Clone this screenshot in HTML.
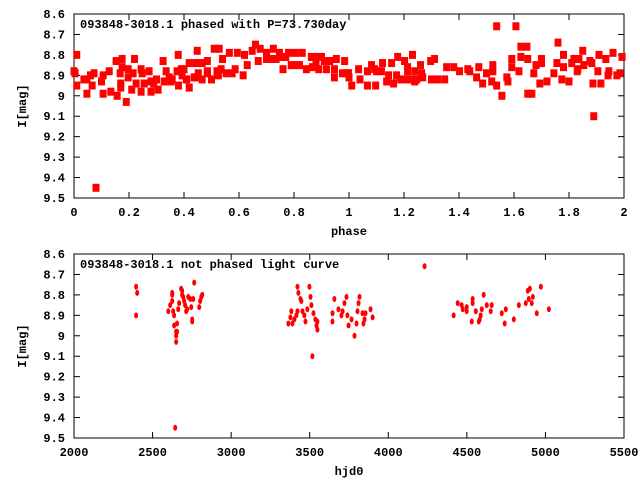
<!DOCTYPE html>
<html><head><meta charset="utf-8"><style>
body{margin:0;background:#fff;}
svg text{font-family:"Liberation Mono",monospace;font-weight:bold;font-size:12px;fill:#000;}
</style></head><body>
<svg id="chart" width="640" height="480" xmlns="http://www.w3.org/2000/svg"></svg>
<script>
const phaseTicks=[0,0.2,0.4,0.6,0.8,1,1.2,1.4,1.6,1.8,2];
const phaseTickLabels=["0","0.2","0.4","0.6","0.8","1","1.2","1.4","1.6","1.8","2"];
const hjdTicks=[2000,2500,3000,3500,4000,4500,5000,5500];
const magTicks=[8.6,8.7,8.8,8.9,9,9.1,9.2,9.3,9.4,9.5];
const magTickLabels=["8.6","8.7","8.8","8.9","9","9.1","9.2","9.3","9.4","9.5"];
const phasedPhase=[0.0,0.01,0.004,0.01,0.036,0.047,0.047,0.06,0.066,0.073,0.08,0.10,0.106,0.106,0.128,0.134,0.153,0.157,0.168,0.17,0.17,0.175,0.175,0.19,0.197,0.197,0.21,0.215,0.22,0.226,0.244,0.244,0.248,0.255,0.273,0.28,0.28,0.29,0.30,0.306,0.324,0.328,0.335,0.346,0.353,0.357,0.375,0.379,0.38,0.39,0.393,0.40,0.408,0.41,0.419,0.419,0.437,0.444,0.444,0.448,0.452,0.466,0.466,0.485,0.485,0.485,0.50,0.51,0.52,0.525,0.528,0.535,0.54,0.553,0.565,0.575,0.586,0.594,0.615,0.62,0.63,0.648,0.66,0.67,0.677,0.70,0.70,0.71,0.72,0.725,0.735,0.747,0.754,0.76,0.77,0.78,0.79,0.805,0.805,0.82,0.83,0.845,0.863,0.867,0.877,0.88,0.89,0.90,0.91,0.918,0.93,0.947,0.947,0.954,0.976,0.984,0.998,
0.995,1.00,1.01,1.035,1.04,1.067,1.067,1.082,1.093,1.097,1.10,1.118,1.122,1.137,1.144,1.155,1.162,1.173,1.177,1.188,1.202,1.213,1.213,1.213,1.228,1.231,1.239,1.239,1.246,1.26,1.264,1.268,1.297,1.30,1.311,1.322,1.348,1.355,1.381,1.402,1.432,1.439,1.464,1.472,1.486,1.50,1.519,1.523,1.523,1.537,1.537,1.556,1.574,1.578,1.592,1.592,1.607,1.618,1.625,1.625,1.647,1.65,1.65,1.665,1.672,1.68,1.694,1.70,1.70,1.72,1.745,1.756,1.76,1.774,1.78,1.78,1.80,1.81,1.818,1.83,1.832,1.836,1.85,1.854,1.876,1.883,1.887,1.89,1.909,1.905,1.916,1.934,1.942,1.945,1.96,1.974,1.985,1.993];
const phasedMag=[8.88,8.80,8.89,8.95,8.92,8.92,8.99,8.90,8.95,8.89,9.45,8.93,8.90,8.99,8.88,8.98,8.83,9.00,8.89,8.94,8.96,8.82,8.86,9.03,8.87,8.91,8.97,8.89,8.82,8.94,8.87,8.98,8.89,8.94,8.88,8.98,8.93,8.94,8.92,8.97,8.83,8.93,8.88,8.91,8.93,8.92,8.88,8.80,8.95,8.87,8.90,8.87,8.92,8.92,8.96,8.84,8.91,8.91,8.84,8.78,8.89,8.84,8.92,8.83,8.88,8.89,8.92,8.77,8.88,8.90,8.77,8.87,8.82,8.89,8.79,8.89,8.87,8.79,8.90,8.80,8.85,8.78,8.75,8.83,8.77,8.79,8.82,8.82,8.82,8.77,8.82,8.79,8.81,8.87,8.81,8.79,8.85,8.79,8.85,8.85,8.79,8.87,8.81,8.86,8.81,8.84,8.87,8.81,8.83,8.87,8.83,8.87,8.91,8.82,8.89,8.83,8.89,
8.89,8.91,8.95,8.87,8.92,8.88,8.95,8.85,8.87,8.95,8.88,8.88,8.84,8.93,8.90,8.84,8.94,8.90,8.81,8.92,8.83,8.86,8.88,8.92,8.92,8.80,8.88,8.93,8.92,8.85,8.89,8.91,8.83,8.92,8.82,8.92,8.92,8.86,8.86,8.88,8.87,8.88,8.91,8.86,8.94,8.89,8.93,8.85,8.88,8.66,8.95,9.00,8.91,8.93,8.82,8.86,8.66,8.88,8.76,8.81,8.76,8.82,8.99,8.99,8.89,8.85,8.94,8.82,8.84,8.93,8.89,8.84,8.74,8.92,8.80,8.86,8.93,8.84,8.82,8.88,8.87,8.82,8.78,8.85,8.83,8.84,8.94,9.10,8.80,8.88,8.94,8.82,8.90,8.88,8.79,8.90,8.89,8.81];
const hjd=[2395,2402,2395,2600,2612,2625,2625,2625,2631,2637,2637,2650,2650,2650,2656,2656,2663,2669,2682,2688,2688,2695,2701,2707,2714,2720,2727,2740,2746,2752,2752,2759,2765,2797,2803,2810,2816,2644,3364,3377,3383,3390,3402,3415,3422,3422,3428,3441,3447,3454,3466,3473,3485,3498,3505,3511,3517,3524,3536,3543,3549,3549,3645,3645,3657,3683,3702,3709,3721,3734,3740,3747,3766,3785,3798,3804,3811,3817,3836,3842,3849,3855,3887,3900,4231,4416,4442,4467,4474,4499,4499,4531,4537,4537,4557,4576,4582,4588,4595,4607,4627,4652,4658,4722,4741,4748,4799,4831,4875,4888,4894,4901,4913,4920,4945,4971,5022];
const hjdMag=[8.76,8.79,8.90,8.88,8.85,8.80,8.79,8.83,8.88,8.90,8.95,8.98,9.00,9.03,8.94,8.98,8.87,8.84,8.77,8.80,8.78,8.81,8.83,8.85,8.88,8.87,8.81,8.82,8.86,8.92,8.93,8.82,8.74,8.86,8.83,8.81,8.80,9.45,8.94,8.91,8.88,8.94,8.92,8.90,8.88,8.76,8.79,8.82,8.83,8.88,8.90,8.93,8.87,8.76,8.81,8.85,9.10,8.89,8.92,8.95,8.97,8.93,8.93,8.89,8.82,8.87,8.90,8.88,8.84,8.81,8.90,8.95,8.92,9.00,8.94,8.88,8.84,8.81,8.89,8.94,8.92,8.89,8.87,8.91,8.66,8.90,8.84,8.85,8.87,8.86,8.88,8.93,8.82,8.84,8.88,8.93,8.92,8.90,8.87,8.80,8.85,8.88,8.85,8.89,8.94,8.87,8.92,8.85,8.84,8.78,8.82,8.77,8.84,8.81,8.89,8.76,8.87];

const svg=document.getElementById('chart');
const NS='http://www.w3.org/2000/svg';
function mk(tag,attrs){const e=document.createElementNS(NS,tag);for(const k in attrs)e.setAttribute(k,attrs[k]);svg.appendChild(e);return e;}
const L=74,R=624;
function panel(top,bottom,xmin,xmax,xt,xtl,xs,ys,xlabel,title,pfx){
  const sx=v=>L+(v-xmin)/(xmax-xmin)*(R-L);
  const sy=v=>top+(v-8.6)/0.9*(bottom-top);
  const box=mk('rect',{x:L,y:top,width:R-L,height:bottom-top,fill:'none',stroke:'#000','stroke-width':1});
  
  
  xt.forEach((v,i)=>{
    const x=sx(v);
    const t1=mk('line',{x1:x,y1:bottom,x2:x,y2:bottom-6,stroke:'#000'});
    
    
    mk('line',{x1:x,y1:top,x2:x,y2:top+6,stroke:'#000'});
    const t=mk('text',{x:x,y:bottom+18,'text-anchor':'middle'});t.textContent=xtl[i];
    
    
  });
  magTicks.forEach((v,i)=>{
    const y=sy(v);
    const t1=mk('line',{x1:L,y1:y,x2:L+6,y2:y,stroke:'#000'});
    
    
    mk('line',{x1:R,y1:y,x2:R-6,y2:y,stroke:'#000'});
    const t=mk('text',{x:65,y:y+4,'text-anchor':'end'});t.textContent=magTickLabels[i];
    
    
  });
  const xl=mk('text',{x:(L+R)/2,y:bottom+37,'text-anchor':'middle'});xl.textContent=xlabel;
  
  
  const cy=(top+bottom)/2;
  const yl=mk('text',{x:26,y:cy,'text-anchor':'middle',transform:'rotate(-90 26 '+cy+')'});yl.textContent='I[mag]';
  
  
  const ti=mk('text',{x:80,y:top+14});ti.textContent=title;
  
  
  return {sx,sy};
}
const p1=panel(14,198,0,2,phaseTicks,phaseTickLabels,null,null,'phase','093848-3018.1 phased with P=73.730day','phased');
phasedPhase.forEach((v,i)=>{
  const r=mk('rect',{x:p1.sx(v)-3.5,y:p1.sy(phasedMag[i])-4,width:7,height:8,fill:'#f00'});
  
  
});
const p2=panel(254,438,2000,5500,hjdTicks,hjdTicks.map(String),null,null,'hjd0','093848-3018.1 not phased light curve','unphased');
hjd.forEach((v,i)=>{
  const e=mk('ellipse',{cx:p2.sx(v),cy:p2.sy(hjdMag[i]),rx:2,ry:3,fill:'#f00'});
  
  
});
</script>
</body></html>
